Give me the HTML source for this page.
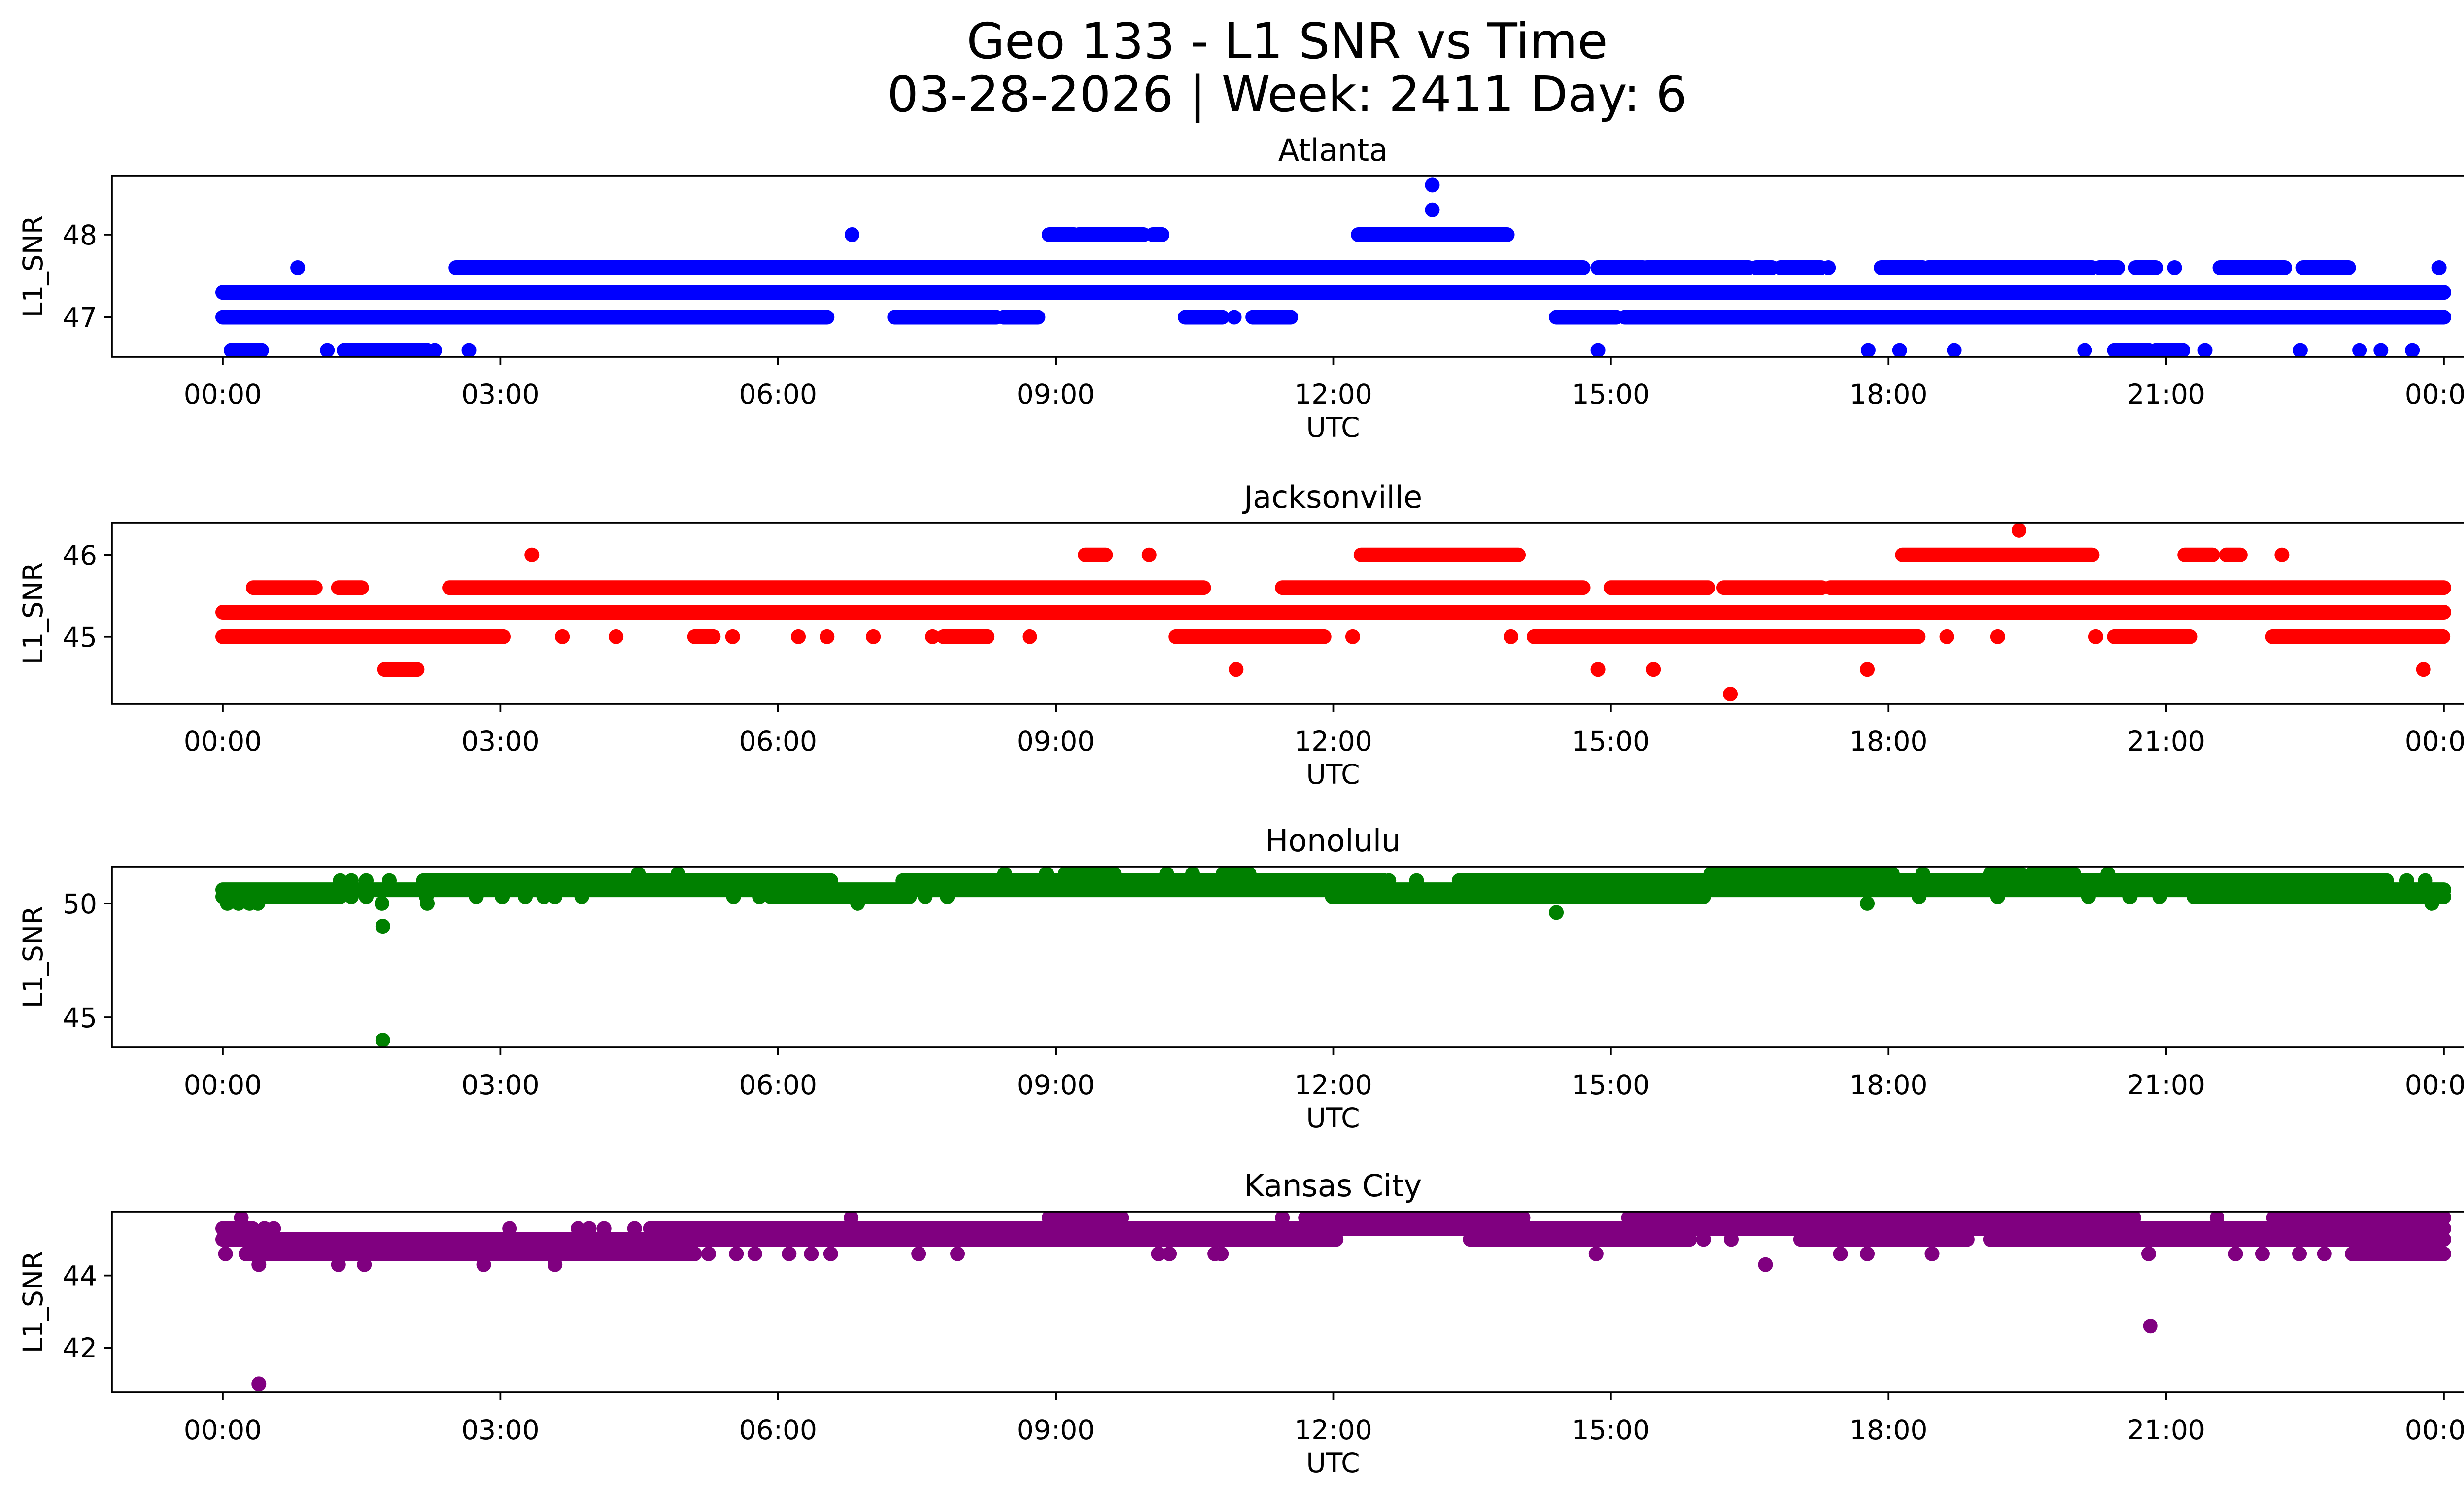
<!DOCTYPE html>
<html><head><meta charset="utf-8"><style>
html,body{margin:0;padding:0;background:#fff;overflow:hidden;}
svg{display:block;font-family:"DejaVu Sans","Liberation Sans",sans-serif;}
</style></head><body>
<svg id="fig" width="5225" height="3033" viewBox="0 0 5225 3033" xmlns="http://www.w3.org/2000/svg">
<rect width="5225" height="3033" fill="#fff"/>
<text x="2612" y="118" font-size="100" text-anchor="middle">Geo 133 - L1 SNR vs Time</text>
<text x="2612" y="226" font-size="100" text-anchor="middle">03-28-2026 | Week: 2411 Day: 6</text>
<g id="plots"></g>
</svg>
<script>
// x tick labels (hours)
const xTickHours = [0,3,6,9,12,15,18,21,24];
const xTickLabels = ["00:00","03:00","06:00","09:00","12:00","15:00","18:00","21:00","00:00"];

// ---- Atlanta ----
const atlSegStart = [0,2.52,14.86,15.39,16.57,16.83,17.92,18.43,20.28,20.67,21.58,22.48,0,7.26,8.44,10.4,11.13,14.41,15.15,8.93,9.25,10.05,12.27,1.31,0.09,20.44,20.89];
const atlSegEnd   = [24,14.7,15.35,16.49,16.74,17.27,18.37,20.2,20.48,20.89,22.28,22.97,6.53,8.36,8.81,10.8,11.54,15.06,24,9.2,9.95,10.15,13.88,2.21,0.42,20.81,21.18];
const atlSegVal   = [47.3,47.6,47.6,47.6,47.6,47.6,47.6,47.6,47.6,47.6,47.6,47.6,47,47,47,47,47,47,47,48,48,48,48,46.6,46.6,46.6,46.6];
const atlPtT = [0.81,17.35,21.09,23.95,10.93,6.8,13.07,13.07,1.13,2.29,2.66,14.86,17.78,18.12,18.71,20.12,21.42,22.45,23.09,23.32,23.66];
const atlPtV = [47.6,47.6,47.6,47.6,47,48,48.3,48.6,46.6,46.6,46.6,46.6,46.6,46.6,46.6,46.6,46.6,46.6,46.6,46.6,46.6];
const atlTicks = [47,48];

// ---- Jacksonville ----
const jaxSegStart = [0,0.33,1.25,2.45,11.45,15.0,16.22,17.37,0,5.1,7.79,10.3,14.17,20.44,22.15,9.32,12.3,18.15,21.2,21.65,1.75];
const jaxSegEnd   = [24,1.0,1.5,10.6,14.7,16.05,17.28,24,3.03,5.3,8.26,11.9,18.32,21.26,23.99,9.54,14.0,20.2,21.5,21.8,2.1];
const jaxSegVal   = [45.3,45.6,45.6,45.6,45.6,45.6,45.6,45.6,45,45,45,45,45,45,45,46,46,46,46,46,44.6];
const jaxPtT = [3.67,4.25,5.51,6.22,6.53,7.03,7.67,8.72,12.21,13.92,18.63,19.18,20.24,3.34,10.01,22.25,19.41,10.95,14.86,15.46,17.77,23.78,16.29];
const jaxPtV = [45,45,45,45,45,45,45,45,45,45,45,45,45,46,46,46,46.3,44.6,44.6,44.6,44.6,44.6,44.3];
const jaxTicks = [45,46];

// ---- Honolulu ----
const hnlSegStart = [0,0,5.92,11.99,21.3,2.17,7.35,13.36,16.08,9.1,10.81,19.1,19.55];
const hnlSegEnd   = [24,1.27,7.42,16.0,24,6.57,12.55,23.38,18.04,9.63,11.09,19.43,20.0];
const hnlSegVal   = [50.6,50.3,50.3,50.3,50.3,51,51,51,51.3,51.3,51.3,51.3,51.3];
const hnlPtT = [2.74,3.02,3.27,3.47,3.59,3.88,5.52,5.8,7.59,7.83,18.33,19.18,20.16,20.61,20.93,1.39,1.55,2.2,1.27,1.39,1.55,1.8,12.6,12.9,23.6,23.8,4.49,4.92,8.45,8.9,10.2,10.48,18.37,20.37,0.05,0.17,0.29,0.38,1.72,2.21,6.86,17.77,23.87,1.73,1.73,14.41];
const hnlPtV = [50.3,50.3,50.3,50.3,50.3,50.3,50.3,50.3,50.3,50.3,50.3,50.3,50.3,50.3,50.3,50.3,50.3,50.3,51,51,51,51,51,51,51,51,51.3,51.3,51.3,51.3,51.3,51.3,51.3,51.3,50,50,50,50,50,50,50,50,50,49,44,49.6];
const hnlTicks = [45,50];

// ---- Kansas City ----
const kcSegStart = [0,13.48,17.05,19.1,0.25,23.01,0,4.62,8.93,11.7,15.19,22.16];
const kcSegEnd   = [12.03,15.85,18.85,24,5.1,24,0.32,24,9.71,14.05,20.65,24];
const kcSegVal   = [45,45,45,45,44.6,44.6,45.3,45.3,45.6,45.6,45.6,45.6];
const kcPtT = [16.0,16.3,0.03,5.25,5.55,5.75,6.12,6.36,6.57,7.52,7.94,10.11,10.23,10.72,10.79,14.84,17.48,17.77,18.47,20.81,21.75,22.04,22.44,22.71,0.39,1.25,1.53,2.82,3.59,16.67,0.45,0.55,3.1,3.84,3.96,4.12,4.45,0.2,6.79,11.45,21.55,0.39,20.83];
const kcPtV = [45,45,44.6,44.6,44.6,44.6,44.6,44.6,44.6,44.6,44.6,44.6,44.6,44.6,44.6,44.6,44.6,44.6,44.6,44.6,44.6,44.6,44.6,44.6,44.3,44.3,44.3,44.3,44.3,44.3,45.3,45.3,45.3,45.3,45.3,45.3,45.3,45.6,45.6,45.6,45.6,41.0,42.6];
const kcTicks = [42,44];

const NS = "http://www.w3.org/2000/svg";
const L = 227, R = 5183, X0 = 452, X1 = 4959, H = 367;
const R_DOT = 15;
function xScale(h){ return X0 + (X1 - X0) * h / 24; }
function mk(tag, attrs, parent){ const e = document.createElementNS(NS, tag); for (const k in attrs) e.setAttribute(k, attrs[k]); parent.appendChild(e); return e; }

const panels = [
  {key:"atlanta", title:"Atlanta", color:"#0000ff", top:357, ymin:46.52, ymax:48.71, segS:atlSegStart, segE:atlSegEnd, segV:atlSegVal, pT:atlPtT, pV:atlPtV, ticks:atlTicks},
  {key:"jacksonville", title:"Jacksonville", color:"#ff0000", top:1061, ymin:44.18, ymax:46.39, segS:jaxSegStart, segE:jaxSegEnd, segV:jaxSegVal, pT:jaxPtT, pV:jaxPtV, ticks:jaxTicks},
  {key:"honolulu", title:"Honolulu", color:"#008000", top:1758, ymin:43.68, ymax:51.62, segS:hnlSegStart, segE:hnlSegEnd, segV:hnlSegVal, pT:hnlPtT, pV:hnlPtV, ticks:hnlTicks},
  {key:"kansas-city", title:"Kansas City", color:"#800080", top:2458, ymin:40.76, ymax:45.77, segS:kcSegStart, segE:kcSegEnd, segV:kcSegVal, pT:kcPtT, pV:kcPtV, ticks:kcTicks}
];

const root = document.getElementById("plots");
panels.forEach(function(p){
  const top = p.top, bot = p.top + H;
  function yScale(v){ return bot - (v - p.ymin) / (p.ymax - p.ymin) * H; }
  const g = mk("g", {}, root);
  
  
  const cp = mk("clipPath", {id:"clip-" + p.key}, g);
  mk("rect", {x:L, y:top, width:R-L, height:H}, cp);
  const t = mk("text", {x:(L+R)/2, y:top-31, "font-size":62, "text-anchor":"middle"}, g);
  t.textContent = p.title;
  
  
  const marks = mk("g", {"clip-path":"url(#clip-" + p.key + ")", fill:p.color, stroke:p.color}, g);
  
  
  for (let i = 0; i < p.segS.length; i++) {
    const ln = mk("line", {x1:xScale(p.segS[i]), x2:xScale(p.segE[i]), y1:yScale(p.segV[i]), y2:yScale(p.segV[i]), "stroke-width":2*R_DOT, "stroke-linecap":"round"}, marks);
    
    
  }
  for (let i = 0; i < p.pT.length; i++) {
    const c = mk("circle", {cx:xScale(p.pT[i]), cy:yScale(p.pV[i]), r:R_DOT, stroke:"none"}, marks);
    
    
  }
  const fr = mk("rect", {x:L, y:top, width:R-L, height:H, fill:"none", stroke:"#000", "stroke-width":3.7}, g);
  
  
  xTickHours.forEach(function(h, i){
    const x = xScale(h);
    const tk = mk("line", {x1:x, x2:x, y1:bot, y2:bot+16, stroke:"#000", "stroke-width":3.7}, g);
    
    
    const lb = mk("text", {x:x, y:bot+95, "font-size":55, "text-anchor":"middle"}, g);
    lb.textContent = xTickLabels[i];
    
    
  });
  p.ticks.forEach(function(v){
    const y = yScale(v);
    const tk = mk("line", {x1:L-16, x2:L, y1:y, y2:y, stroke:"#000", "stroke-width":3.7}, g);
    
    
    const lb = mk("text", {x:L-30, y:y+20, "font-size":55, "text-anchor":"end"}, g);
    lb.textContent = String(v);
    
    
  });
  const xl = mk("text", {x:(L+R)/2, y:bot+162, "font-size":55, "text-anchor":"middle"}, g);
  xl.textContent = "UTC";
  
  
  const yl = mk("text", {x:0, y:0, "font-size":55, "text-anchor":"middle", transform:"translate(86," + (top + H/2) + ") rotate(-90)"}, g);
  yl.textContent = "L1_SNR";
  
  
});
</script>
</body></html>
